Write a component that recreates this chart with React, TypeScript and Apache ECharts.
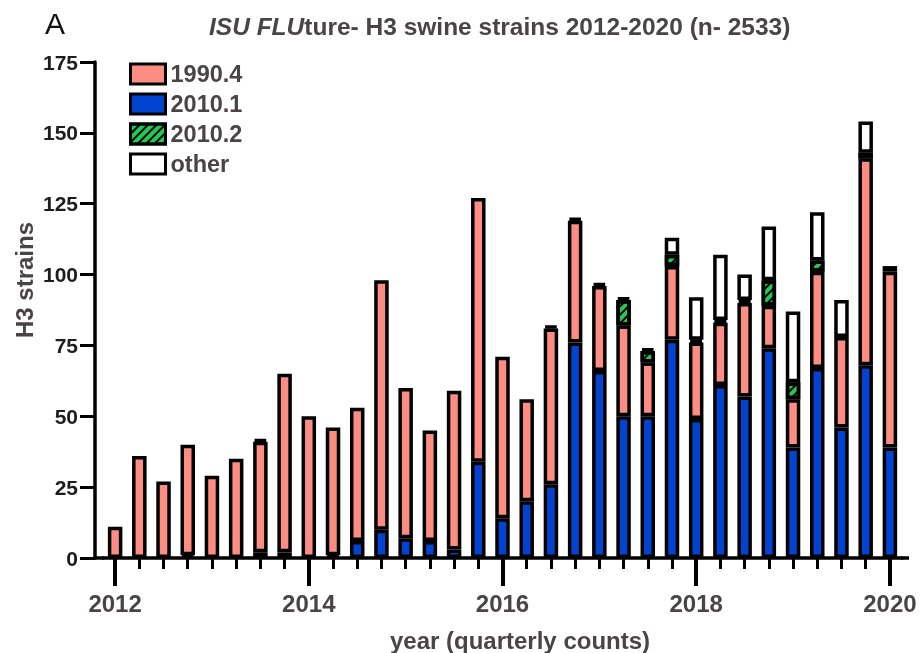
import React, { useEffect, useRef } from 'react';
import * as echarts from 'echarts';

const quarters = [
  '2012 Q1', '2012 Q2', '2012 Q3', '2012 Q4',
  '2013 Q1', '2013 Q2', '2013 Q3', '2013 Q4',
  '2014 Q1', '2014 Q2', '2014 Q3', '2014 Q4',
  '2015 Q1', '2015 Q2', '2015 Q3', '2015 Q4',
  '2016 Q1', '2016 Q2', '2016 Q3', '2016 Q4',
  '2017 Q1', '2017 Q2', '2017 Q3', '2017 Q4',
  '2018 Q1', '2018 Q2', '2018 Q3', '2018 Q4',
  '2019 Q1', '2019 Q2', '2019 Q3', '2019 Q4',
  '2020 Q1',
];

const clade2010_1 = [0, 0, 0, 1, 0, 0, 2, 2, 0, 1, 6, 10, 7, 6, 3, 34, 14, 20, 26, 76, 66, 50, 50, 77, 49, 61, 57, 74, 39, 67, 46, 68, 39];
const clade1990_4 = [11, 36, 27, 39, 29, 35, 39, 63, 50, 45, 47, 88, 53, 39, 56, 93, 57, 36, 55, 43, 30, 32, 19, 26, 27, 22, 33, 15, 17, 34, 32, 73, 62];
const clade2010_2 = [0, 0, 0, 0, 0, 0, 0, 0, 0, 0, 0, 0, 0, 0, 0, 0, 0, 0, 0, 0, 0, 9, 4, 4, 1, 1, 1, 9, 6, 4, 0, 2, 0];
const cladeOther = [0, 0, 0, 0, 0, 0, 1, 0, 0, 0, 0, 0, 0, 0, 0, 0, 0, 0, 1, 1, 1, 1, 1, 6, 15, 23, 9, 19, 25, 17, 13, 11, 2];

const yTicks = [0, 25, 50, 75, 100, 125, 150, 175];

export default function App() {
  const ref = useRef<HTMLDivElement>(null);
  useEffect(() => {
    const chart = echarts.init(ref.current!, null, { renderer: 'svg' });
    const font = "'Liberation Sans', Arial, sans-serif";
    const gray = '#4a4446';
    const nz = (a: number[]) => a.map((v) => (v === 0 ? null : v));
    const border = { borderColor: '#000', borderWidth: 3.5 };
    const base = { type: 'bar', stack: 'total', barWidth: 14.5, xAxisIndex: 0, yAxisIndex: 0 };
    chart.setOption({
      animation: false,
      textStyle: { fontFamily: font },
      title: {
        text: '{i|ISU FLU}{n|ture- H3 swine strains 2012-2020 (n- 2533)}',
        left: 204,
        top: 9,
        textStyle: {
          rich: {
            i: { fontStyle: 'italic', fontWeight: 'bold', fontSize: 24.5, color: gray, fontFamily: font },
            n: { fontWeight: 'bold', fontSize: 24.5, color: gray, fontFamily: font },
          },
        },
      },
      legend: {
        data: ['1990.4', '2010.1', '2010.2', 'other'],
        orient: 'vertical',
        left: 124,
        top: 57,
        icon: 'rect',
        itemWidth: 35,
        itemHeight: 20,
        itemGap: 6,
        itemStyle: { borderColor: '#000', borderWidth: 3 },
        textStyle: { fontSize: 23.5, fontWeight: 'bold', color: gray, fontFamily: font, lineHeight: 20 },
      },
      grid: { left: 103, right: 18, top: 62, bottom: 95 },
      xAxis: [
        {
          type: 'category',
          data: quarters,
          position: 'bottom',
          axisLine: { show: true, lineStyle: { color: '#000', width: 3.5 } },
          axisTick: { show: true, interval: 0, alignWithLabel: true, length: 11, lineStyle: { color: '#000', width: 3 } },
          axisLabel: { show: false },
        },
        {
          type: 'category',
          data: quarters,
          position: 'bottom',
          axisLine: { show: false },
          axisTick: { show: true, interval: 7, alignWithLabel: true, length: 28, lineStyle: { color: '#000', width: 4 } },
          axisLabel: {
            interval: 7,
            margin: 33,
            fontSize: 24,
            fontWeight: 'bold',
            color: gray,
            fontFamily: font,
            formatter: (v: string) => v.slice(0, 4),
          },
        },
      ],
      yAxis: {
        type: 'value',
        min: yTicks[0],
        max: yTicks[yTicks.length - 1],
        interval: 25,
        offset: 8,
        axisLine: { show: true, lineStyle: { color: '#000', width: 3.5 } },
        axisTick: { show: true, length: 15, lineStyle: { color: '#000', width: 3 } },
        axisLabel: { margin: 17, fontSize: 21, fontWeight: 'bold', color: '#1e1c1d', fontFamily: font },
        splitLine: { show: false },
      },
      series: [
        { ...base, name: '2010.1', data: nz(clade2010_1), itemStyle: { color: '#0343d1', ...border } },
        { ...base, name: '1990.4', data: nz(clade1990_4), itemStyle: { color: '#fd8c82', ...border } },
        {
          ...base,
          name: '2010.2',
          data: nz(clade2010_2),
          itemStyle: {
            color: '#22c955',
            ...border,
            decal: {
              symbol: 'rect',
              symbolSize: 1,
              color: '#000',
              dashArrayX: [1, 0],
              dashArrayY: [2, 4],
              rotation: -Math.PI / 4,
            },
          },
        },
        { ...base, name: 'other', data: nz(cladeOther), itemStyle: { color: '#ffffff', ...border } },
      ],
      graphic: [
        { type: 'text', left: 45, top: 8, style: { text: 'A', fontSize: 30, fontFamily: font, fill: '#111' } },
        {
          type: 'text',
          x: 24,
          y: 280,
          rotation: Math.PI / 2,
          style: { text: 'H3 strains', fontSize: 24, fontWeight: 'bold', fill: gray, fontFamily: font, align: 'center', verticalAlign: 'middle' },
        },
        {
          type: 'text',
          x: 520,
          y: 640,
          style: { text: 'year (quarterly counts)', fontSize: 24, fontWeight: 'bold', fill: gray, fontFamily: font, align: 'center', verticalAlign: 'middle' },
        },
        { type: 'line', shape: { x1: 93.5, y1: 558, x2: 104, y2: 558 }, style: { stroke: '#000', lineWidth: 3.5 } },
        { type: 'line', shape: { x1: 901, y1: 558, x2: 909, y2: 558 }, style: { stroke: '#000', lineWidth: 3.5 } },
      ],
    });
    return () => chart.dispose();
  }, []);
  return <div ref={ref} style={{ position: 'fixed', left: 0, top: 0, width: 920, height: 653 }} />;
}
